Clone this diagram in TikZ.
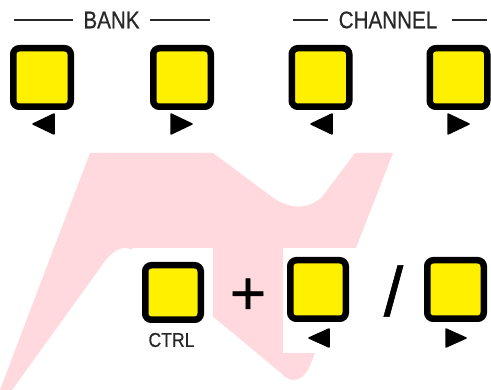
\documentclass[tikz,border=0pt]{standalone}
\usepackage{fontspec}
\setmainfont{Liberation Sans}
\newfontfamily\labelfont[FakeBold=0.6]{Liberation Sans}
\newfontfamily\symfont[FakeBold=0.8]{Liberation Sans}
\definecolor{btnyellow}{RGB}{255,240,0}
\definecolor{wmpink}{RGB}{255,217,221}
\definecolor{labelgray}{RGB}{40,40,40}
\tikzset{
  btn/.style={draw=black, fill=btnyellow, line width=6.5pt, rounded corners=6pt,
    minimum width=57.5pt, minimum height=58.5pt, inner sep=0pt, outer sep=0pt},
  tri/.style={fill=black, draw=black, line width=1.5pt, line join=round},
  hline/.style={draw=labelgray, line width=2pt},
  lbl/.style={text=labelgray, inner sep=0pt, outer sep=0pt, font=\labelfont},
  sym/.style={text=black, inner sep=0pt, outer sep=0pt, font=\symfont}
}
\begin{document}
\begin{tikzpicture}[x=1pt,y=-1pt]
\useasboundingbox (0,0) rectangle (491,390);
\fill[white] (0,0) rectangle (491,390);
% watermark
\fill[wmpink] (0,390) -- (90,153) -- (213,153) -- (268,194)
  .. controls (285,208) and (306,212) .. (322,197) -- (355,153) -- (393,153)
  -- (311,363) .. controls (305,380) and (292,386) .. (281,373)
  -- (134,251) .. controls (121,242) and (109,254) .. (100,268)
  -- (12,390) -- cycle;
\fill[white] (132,248) rectangle (213,390);
\fill[white] (283,248) rectangle (358,353);
% headers
\node[lbl] (bank) at (111.5,20) {\fontsize{24}{24}\selectfont\scalebox{0.86}[1]{BANK}};
\node[lbl] (chan) at (388,20) {\fontsize{24}{24}\selectfont\scalebox{0.86}[1]{CHANNEL}};
\coordinate (bl1) at (14,20); \coordinate (bl2) at (150,20);
\draw[hline] (bl1) -- (73,20);
\draw[hline] (bl2) -- (210,20);
\draw[hline] (293,20) -- (328,20);
\draw[hline] (452,20) -- (487,20);
% top buttons
\node[btn] (b1) at (42,77.5) {};
\node[btn] (b2) at (182,77.5) {};
\node[btn] (b3) at (320.5,77.5) {};
\node[btn] (b4) at (458.5,77.5) {};
\draw[tri] (33,124) -- (54,114) -- (54,134) -- cycle;
\draw[tri] (192,124) -- (171,114) -- (171,134) -- cycle;
\draw[tri] (311,124) -- (332,114) -- (332,134) -- cycle;
\draw[tri] (469,124) -- (448,114) -- (448,134) -- cycle;
% bottom row
\node[btn, minimum height=54.5pt, minimum width=55.5pt] (ctrl) at (173,292.5) {};
\node[lbl] (ctrltxt) at (171.5,340) {\fontsize{20}{20}\selectfont\scalebox{0.88}[1]{CTRL}};
\node[sym] (plus) at (248,296.5) {\fontsize{62}{62}\selectfont +};
\node[btn, minimum width=55.5pt] (bl) at (318,289.5) {};
\node[sym] (slash) at (393.5,291) {\fontsize{70}{70}\selectfont /};
\node[btn, minimum width=56.5pt] (br) at (455.5,289.5) {};
\draw[tri] (309,338) -- (329,329) -- (329,347) -- cycle;
\draw[tri] (466,338) -- (446,329) -- (446,347) -- cycle;
\end{tikzpicture}
\end{document}
